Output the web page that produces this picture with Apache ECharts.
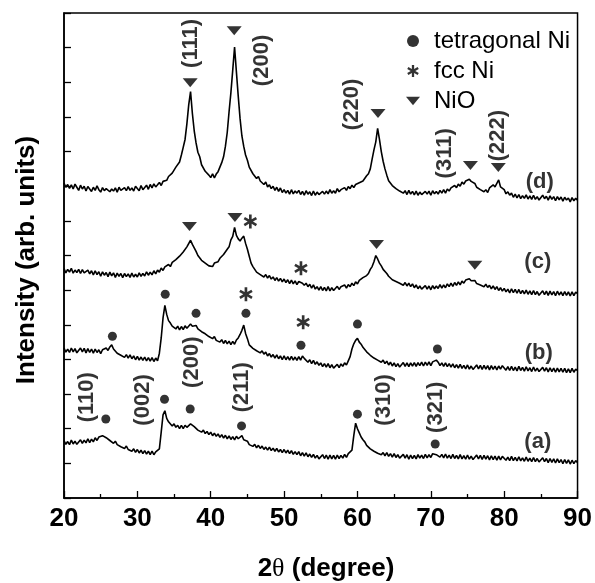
<!DOCTYPE html>
<html>
<head>
<meta charset="utf-8">
<script src="https://cdn.jsdelivr.net/npm/echarts@6/dist/echarts.min.js"></script>
<style>html,body{margin:0;padding:0;background:#fff}#c{width:595px;height:583px}</style>
</head>
<body>
<div id="c"></div>
<script>
// ---- x sampling of the patterns (2theta, degree) ----
const X_START = 20;
const X_STEP = 0.25;
const xTicks = [20, 30, 40, 50, 60, 70, 80, 90];

// ---- XRD patterns (arb. units, stacked) ----
const traceA = [
1.66,1.55,1.63,1.54, 1.67,1.56,1.64,1.55, 1.56,1.68,1.58,1.67, 1.59,1.71,1.60,1.70,
1.62,1.74,1.66,1.76, 1.72,1.80,1.83,1.74, 1.76,1.66,1.68,1.58, 1.64,1.54,1.58,1.48,
1.53,1.43,1.50,1.40, 1.45,1.35,1.42,1.32, 1.40,1.30,1.38,1.28, 1.37,1.27,1.35,1.25,
1.35,1.25,1.33,1.28, 1.42,1.90,2.40,2.52, 2.30,2.20,2.16,2.08, 2.14,2.04,2.10,2.00,
2.10,2.00,2.10,2.04, 2.03,2.14,2.10,2.06, 2.06,1.96,2.00,1.90, 1.96,1.86,1.92,1.83,
1.90,1.80,1.87,1.78, 1.85,1.75,1.83,1.73, 1.81,1.71,1.79,1.69, 1.77,1.68,1.78,1.71,
1.72,1.80,1.68,1.64, 1.64,1.54,1.58,1.49, 1.55,1.45,1.52,1.43, 1.50,1.40,1.47,1.38,
1.47,1.37,1.44,1.35, 1.43,1.33,1.40,1.31, 1.40,1.30,1.38,1.28, 1.37,1.26,1.34,1.25,
1.34,1.22,1.31,1.21, 1.30,1.19,1.27,1.17, 1.26,1.15,1.23,1.13, 1.13,1.25,1.14,1.24,
1.12,1.24,1.13,1.23, 1.12,1.24,1.14,1.23, 1.15,1.26,1.17,1.28, 1.27,1.38,1.80,2.16,
2.00,1.88,1.76,1.68, 1.62,1.52,1.50,1.42, 1.44,1.35,1.38,1.29, 1.34,1.25,1.31,1.22,
1.31,1.20,1.28,1.18, 1.28,1.17,1.25,1.15, 1.14,1.26,1.15,1.25, 1.12,1.24,1.14,1.23,
1.13,1.25,1.15,1.24, 1.14,1.26,1.16,1.25, 1.17,1.28,1.30,1.25, 1.28,1.18,1.26,1.16,
1.27,1.15,1.24,1.14, 1.26,1.14,1.23,1.13, 1.25,1.13,1.22,1.12, 1.24,1.12,1.21,1.11,
1.12,1.24,1.13,1.23, 1.11,1.23,1.12,1.22, 1.10,1.22,1.11,1.21, 1.09,1.21,1.10,1.20,
1.21,1.09,1.18,1.08, 1.20,1.08,1.17,1.07, 1.19,1.07,1.16,1.06, 1.18,1.06,1.15,1.05,
1.17,1.05,1.14,1.04, 1.04,1.16,1.05,1.14, 1.02,1.14,1.03,1.13, 1.01,1.13,1.02,1.11,
0.99,1.11,1.00,1.10, 0.98,1.09,0.99,1.08, 1.02
];
const traceB = [
4.33,4.21,4.30,4.20, 4.33,4.22,4.31,4.19, 4.21,4.33,4.22,4.32, 4.19,4.31,4.20,4.30,
4.18,4.30,4.20,4.28, 4.17,4.28,4.25,4.33, 4.26,4.36,4.42,4.30, 4.28,4.18,4.22,4.12,
4.16,4.06,4.14,4.04, 4.13,4.02,4.10,3.99, 4.09,3.98,4.07,3.97, 4.07,3.96,4.05,3.95,
4.05,3.94,4.04,3.96, 4.18,4.62,5.20,5.56, 5.30,5.12,5.05,4.96, 5.00,4.88,4.96,4.85,
4.95,4.86,4.97,4.90, 4.90,5.02,4.96,4.92, 4.98,4.88,4.90,4.80, 4.84,4.74,4.76,4.66,
4.70,4.60,4.66,4.55, 4.60,4.50,4.57,4.46, 4.55,4.45,4.53,4.43, 4.52,4.44,4.56,4.62,
4.72,4.84,4.99,4.75, 4.60,4.42,4.45,4.32, 4.34,4.25,4.30,4.19, 4.25,4.15,4.21,4.10,
4.17,4.07,4.14,4.04, 4.13,4.02,4.10,3.99, 4.10,3.99,4.08,3.98, 4.09,3.98,4.07,3.97,
4.08,3.98,4.10,4.03, 4.03,3.92,3.99,3.88, 3.97,3.86,3.93,3.83, 3.90,3.79,3.88,3.78,
3.88,3.76,3.85,3.75, 3.74,3.86,3.76,3.87, 3.80,3.90,3.84,3.96, 4.08,4.30,4.45,4.55,
4.61,4.50,4.44,4.35, 4.32,4.22,4.20,4.12, 4.13,4.04,4.08,3.98, 4.02,3.92,3.98,3.88,
3.95,3.84,3.92,3.81, 3.90,3.79,3.88,3.78, 3.79,3.91,3.80,3.90, 3.79,3.90,3.81,3.91,
3.80,3.91,3.82,3.92, 3.81,3.92,3.83,3.93, 3.82,3.93,3.90,3.98, 3.92,3.82,3.90,3.80,
3.90,3.79,3.88,3.78, 3.87,3.76,3.85,3.75, 3.86,3.74,3.83,3.73, 3.84,3.72,3.81,3.71,
3.72,3.84,3.73,3.83, 3.71,3.83,3.72,3.82, 3.70,3.82,3.71,3.81, 3.70,3.81,3.72,3.82,
3.81,3.69,3.79,3.68, 3.80,3.68,3.78,3.67, 3.80,3.68,3.77,3.66, 3.79,3.67,3.76,3.65,
3.78,3.66,3.75,3.65, 3.65,3.77,3.66,3.76, 3.64,3.76,3.65,3.75, 3.63,3.75,3.64,3.74,
3.63,3.74,3.62,3.73, 3.62,3.74,3.63,3.72, 3.68
];
const traceC = [
6.62,6.50,6.60,6.52, 6.63,6.49,6.58,6.51, 6.60,6.48,6.59,6.50, 6.46,6.58,6.47,6.56,
6.44,6.56,6.45,6.53, 6.40,6.53,6.43,6.51, 6.39,6.52,6.41,6.50, 6.37,6.49,6.40,6.48,
6.36,6.48,6.39,6.47, 6.37,6.49,6.38,6.46, 6.38,6.50,6.40,6.48, 6.41,6.53,6.43,6.52,
6.44,6.56,6.47,6.58, 6.52,6.64,6.57,6.67, 6.63,6.74,6.68,6.80, 6.77,6.88,6.86,6.98,
6.96,7.10,7.08,7.25, 7.30,7.44,7.32,7.22, 7.12,7.00,6.98,6.86, 6.88,6.78,6.82,6.70,
6.75,6.68,6.78,6.73, 6.82,6.92,6.90,7.03, 7.06,7.18,7.25,7.45, 7.55,7.81,7.58,7.48,
7.42,7.50,7.56,7.35, 7.18,6.98,6.78,6.68, 6.60,6.52,6.55,6.45, 6.48,6.38,6.45,6.35,
6.42,6.32,6.38,6.28, 6.36,6.26,6.34,6.24, 6.32,6.22,6.30,6.19, 6.29,6.18,6.27,6.16,
6.25,6.30,6.20,6.14, 6.20,6.10,6.17,6.06, 6.15,6.03,6.10,6.00, 6.10,5.99,6.08,5.98,
6.10,5.98,6.07,5.99, 6.00,6.11,6.02,6.10, 6.05,6.15,6.06,6.16, 6.10,6.20,6.13,6.24,
6.18,6.28,6.25,6.36, 6.32,6.42,6.48,6.60, 6.68,6.82,7.00,6.90, 6.78,6.70,6.60,6.55,
6.48,6.40,6.38,6.30, 6.33,6.25,6.29,6.20, 6.24,6.14,6.22,6.12, 6.20,6.10,6.18,6.07,
6.15,6.04,6.12,6.03, 6.02,6.13,6.03,6.12, 6.01,6.13,6.04,6.12, 6.05,6.16,6.06,6.15,
6.07,6.18,6.10,6.20, 6.11,6.22,6.14,6.24, 6.15,6.26,6.20,6.29, 6.24,6.33,6.27,6.31,
6.28,6.19,6.24,6.15, 6.19,6.10,6.17,6.08, 6.14,6.04,6.12,6.02, 6.10,5.99,6.07,5.97,
6.05,5.95,6.03,5.92, 6.04,5.93,6.02,5.91, 6.02,5.90,5.99,5.89, 6.00,5.88,5.98,5.87,
5.99,5.87,5.96,5.85, 5.86,5.98,5.87,5.97, 5.85,5.97,5.86,5.96, 5.84,5.97,5.86,5.95,
5.84,5.96,5.85,5.95, 5.83,5.95,5.84,5.94, 5.90
];
const traceD = [
9.09,8.97,9.05,8.94, 9.04,8.92,9.06,8.97, 8.88,9.03,8.92,9.00, 8.86,8.99,8.95,8.85,
8.97,8.88,9.01,8.90, 8.83,8.96,8.87,8.93, 8.98,8.84,8.92,8.86, 8.95,8.83,8.97,8.88,
8.84,8.96,8.87,8.99, 8.88,8.95,8.86,9.00, 8.97,8.87,9.02,8.90, 8.92,9.03,8.91,9.05,
8.95,9.07,8.98,9.04, 9.11,9.02,9.14,9.10, 9.17,9.28,9.24,9.38, 9.42,9.55,9.52,9.70,
9.90,10.12,10.35,10.80, 11.35,11.73,11.10,10.60, 10.25,9.98,9.85,9.62, 9.60,9.43,9.48,9.32,
9.25,9.36,9.24,9.35, 9.42,9.55,9.68,9.85, 10.15,10.55,11.15,11.70, 12.35,13.02,12.30,11.60,
10.95,10.45,10.15,9.90, 9.75,9.55,9.50,9.36, 9.35,9.22,9.28,9.15, 9.16,9.05,9.12,8.98,
9.04,8.93,9.00,8.88, 8.97,8.85,8.95,8.82, 8.90,8.80,8.88,8.77, 8.90,8.78,8.86,8.80,
8.88,8.76,8.85,8.74, 8.87,8.77,8.84,8.73, 8.86,8.74,8.83,8.76, 8.72,8.85,8.77,8.86,
8.78,8.90,8.80,8.87, 8.80,8.93,8.84,8.90, 8.85,8.96,8.88,8.99, 8.93,9.03,8.96,9.05,
9.00,9.10,9.06,9.15, 9.17,9.30,9.36,9.50, 9.78,10.05,10.28,10.67, 10.35,10.00,9.72,9.50,
9.32,9.16,9.15,9.02, 9.04,8.93,8.97,8.86, 8.90,8.80,8.87,8.76, 8.88,8.77,8.85,8.75,
8.86,8.74,8.83,8.76, 8.73,8.85,8.77,8.86, 8.74,8.87,8.78,8.85, 8.77,8.88,8.80,8.90,
8.80,8.92,8.86,8.95, 8.90,9.02,8.96,9.06, 9.00,9.12,9.06,9.15, 9.10,9.20,9.14,9.12,
9.08,8.97,9.00,8.90, 8.94,8.84,8.90,8.82, 8.95,8.92,9.04,8.98, 9.08,9.18,8.98,8.95,
8.90,8.78,8.84,8.74, 8.80,8.68,8.77,8.66, 8.76,8.64,8.73,8.65, 8.75,8.63,8.72,8.62,
8.74,8.62,8.70,8.60, 8.62,8.74,8.64,8.71, 8.60,8.72,8.62,8.70, 8.58,8.70,8.61,8.69,
8.57,8.68,8.60,8.66, 8.55,8.67,8.58,8.65, 8.60
];

// ---- phase markers: [2theta, level] ----
const tetragonalNi = [[26.6,4.67],[33.8,5.88],[38.0,5.33],[44.8,5.33],[52.3,4.41],[60.0,5.02],[70.9,4.30],
                      [25.7,2.28],[33.7,2.85],[37.2,2.57],[44.2,2.08],[60.0,2.42],[70.6,1.56]];
const fccNi = [[45.4,7.98],[52.3,6.63],[44.8,5.88],[52.6,5.07]];
const nio = [[37.2,11.99],[43.2,13.49],[62.8,11.10],[75.4,9.60],[79.2,9.54],
             [37.1,7.84],[43.3,8.10],[62.6,7.32],[76.0,6.72]];

// ---- reflection (hkl) labels ----
const hklNames = ['(111)','(200)','(220)','(311)','(222)','(110)','(002)','(200)','(211)','(310)','(321)'];
const hklX = [37.37, 47.0, 59.2, 71.96, 79.15, 23.12, 30.72, 37.5, 44.28, 63.55, 70.74];
const hklY = [13.12, 12.63, 11.36, 9.95, 10.46, 2.91, 2.83, 3.92, 3.20, 2.83, 2.62];

// ---- sample labels ----
const sampleNames = ['(a)','(b)','(c)','(d)'];
const sampleX = [84.58, 84.71, 84.58, 84.85];
const sampleY = [1.61, 4.18, 6.80, 9.11];

const FONT = 'Liberation Sans, Arial, Helvetica, sans-serif';

function pairs(arr){ return arr.map((v,i)=>[X_START + i*X_STEP, v]); }

function asteriskPath(){
  const c=5, L=5, w=0.95, rin=w/Math.sin(Math.PI/6), pts=[];
  for(let k=0;k<6;k++){
    const a=(-90+60*k)*Math.PI/180, dx=Math.cos(a), dy=Math.sin(a), px=-dy, py=dx;
    pts.push([c+L*dx-w*px, c+L*dy-w*py]);
    pts.push([c+L*dx+w*px, c+L*dy+w*py]);
    const b=a+Math.PI/6;
    pts.push([c+rin*Math.cos(b), c+rin*Math.sin(b)]);
  }
  return 'path://M'+pts.map(p=>p[0].toFixed(3)+','+p[1].toFixed(3)).join(' L')+' Z';
}
const STAR = asteriskPath();
const TRI = 'path://M0,0 L10,0 L5,6 Z';

function lineSeries(name, arr){
  return {name, type:'line', data:pairs(arr), showSymbol:false, symbol:'none',
    lineStyle:{color:'#000', width:1.6}, silent:true, z:2};
}

const chart = echarts.init(document.getElementById('c'), null, {renderer:'canvas'});
chart.setOption({
  animation:false,
  backgroundColor:'#fff',
  grid:{left:64, right:15, top:13, bottom:85, show:true, borderColor:'#000', borderWidth:1.5},
  xAxis:{type:'value', min:20, max:90, interval:10,
    axisLine:{lineStyle:{color:'#000', width:1.5}},
    axisTick:{inside:true, length:7, lineStyle:{color:'#000', width:1.3}},
    minorTick:{show:true, splitNumber:2, length:4, lineStyle:{color:'#000', width:1.3}},
    splitLine:{show:false},
    axisLabel:{color:'#000', fontSize:26, fontWeight:'bold', fontFamily:FONT, margin:8,
      formatter:v=> xTicks.includes(v) ? String(v) : ''}
  },
  yAxis:{type:'value', min:0, max:14, interval:1,
    axisLine:{show:true, lineStyle:{color:'#000', width:1.5}},
    axisTick:{show:true, inside:true, length:7, lineStyle:{color:'#000', width:1.3}},
    axisLabel:{show:false}, splitLine:{show:false}
  },
  legend:{orient:'vertical', left:401, top:24, itemGap:6, itemWidth:14, itemHeight:12,
    selectedMode:false,
    textStyle:{color:'#000', fontSize:24, fontFamily:FONT, padding:[0,0,0,9]},
    data:[{name:'tetragonal Ni', icon:'circle'},{name:'fcc Ni', icon:STAR},{name:'NiO', icon:TRI}]
  },
  graphic:[
    {type:'text', x:27, y:260, rotation:Math.PI/2,
      style:{text:'Intensity (arb. units)', fill:'#000', font:'bold 26px '+FONT, textAlign:'center', textVerticalAlign:'middle'}},
    {type:'text', x:326, y:569,
      style:{text:'{a|2}{b|θ}{a| (degree)}', textAlign:'center', textVerticalAlign:'middle',
        rich:{a:{fontSize:26, fontWeight:'bold', fontFamily:FONT, fill:'#000', color:'#000'},
              b:{fontSize:26, fontFamily:'Liberation Serif, Times New Roman, serif', fill:'#000', color:'#000'}}}}
  ],
  series:[
    lineSeries('(a)', traceA),
    lineSeries('(b)', traceB),
    lineSeries('(c)', traceC),
    lineSeries('(d)', traceD),
    {name:'tetragonal Ni', type:'scatter', data:tetragonalNi, symbol:'circle', symbolSize:9,
      itemStyle:{color:'#000'}, z:5},
    {name:'fcc Ni', type:'scatter', data:fccNi, symbol:STAR, symbolSize:14, symbolKeepAspect:true,
      itemStyle:{color:'#000'}, z:5},
    {name:'NiO', type:'scatter', data:nio, symbol:TRI, symbolSize:[15,9],
      itemStyle:{color:'#000'}, z:5},
    {name:'hkl', type:'scatter', symbolSize:1, itemStyle:{color:'rgba(0,0,0,0)'}, z:6, silent:true,
      data:hklNames.map((n,i)=>({name:n, value:[hklX[i], hklY[i]]})),
      label:{show:true, position:'inside', rotate:90, formatter:p=>p.name, color:'#000',
        fontSize:22, fontWeight:'bold', fontFamily:FONT}},
    {name:'samples', type:'scatter', symbolSize:1, itemStyle:{color:'rgba(0,0,0,0)'}, z:6, silent:true,
      data:sampleNames.map((n,i)=>({name:n, value:[sampleX[i], sampleY[i]]})),
      label:{show:true, position:'inside', formatter:p=>p.name, color:'#000',
        fontSize:22, fontWeight:'bold', fontFamily:FONT}}
  ]
});
</script>
</body>
</html>
